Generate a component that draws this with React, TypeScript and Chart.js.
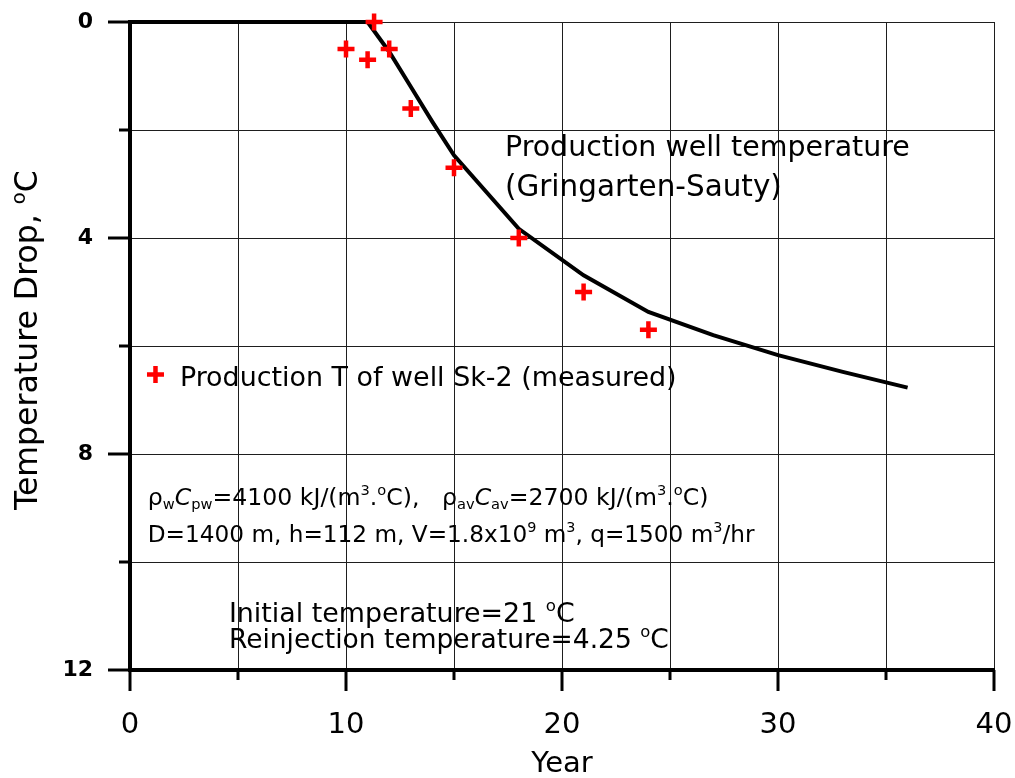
import React, { useEffect, useRef } from 'react';
import { Chart, registerables } from 'chart.js';

Chart.register(...registerables);

// ---- Data ----
const modelYears = [0, 11, 12, 13, 14, 15, 18, 21, 24, 27, 30, 33, 36];
const modelDrop = [0, 0, 0.55, 1.2, 1.85, 2.47, 3.83, 4.69, 5.37, 5.8, 6.17, 6.48, 6.77];
const measuredYears = [10, 11, 11.3, 12, 13, 15, 18, 21, 24];
const measuredDrop = [0.5, 0.7, 0, 0.5, 1.6, 2.7, 4.0, 5.0, 5.7];
const xTickLabels = ['0', '10', '20', '30', '40'];
const yTickLabels = ['0', '4', '8', '12'];

const FONT = '"DejaVu Sans", sans-serif';

type Seg = { t: string; pos?: 'sub' | 'sup'; italic?: boolean };

function segFont(size: number, seg: Seg, weight: string) {
  const s = seg.pos ? size * 0.62 : size;
  return `${seg.italic ? 'italic ' : ''}${weight} ${s}px ${FONT}`;
}
function measureRich(ctx: CanvasRenderingContext2D, segs: Seg[], size: number, weight: string) {
  let w = 0;
  for (const s of segs) {
    ctx.font = segFont(size, s, weight);
    w += ctx.measureText(s.t).width;
  }
  return w;
}
function drawRich(
  ctx: CanvasRenderingContext2D,
  segs: Seg[],
  x: number,
  yCenter: number,
  size: number,
  weight: string,
  target?: number
) {
  let sz = size;
  if (target) sz = (size * target) / measureRich(ctx, segs, size, weight);
  ctx.textAlign = 'left';
  ctx.textBaseline = 'alphabetic';
  const base = yCenter + sz * 0.36;
  let cx = x;
  for (const s of segs) {
    ctx.font = segFont(sz, s, weight);
    const dy = s.pos === 'sub' ? sz * 0.2 : s.pos === 'sup' ? -sz * 0.4 : 0;
    ctx.fillText(s.t, cx, base + dy);
    cx += ctx.measureText(s.t).width;
  }
}

const line1: Seg[] = [
  { t: 'ρ' }, { t: 'w', pos: 'sub' }, { t: 'C', italic: true }, { t: 'pw', pos: 'sub' },
  { t: '=4100 kJ/(m' }, { t: '3', pos: 'sup' }, { t: '.' }, { t: 'o', pos: 'sup' }, { t: 'C),   ' },
  { t: 'ρ' }, { t: 'av', pos: 'sub' }, { t: 'C', italic: true }, { t: 'av', pos: 'sub' },
  { t: '=2700 kJ/(m' }, { t: '3', pos: 'sup' }, { t: '.' }, { t: 'o', pos: 'sup' }, { t: 'C)' },
];
const line2: Seg[] = [
  { t: 'D=1400 m, h=112 m, V=1.8x10' }, { t: '9', pos: 'sup' }, { t: ' m' }, { t: '3', pos: 'sup' },
  { t: ', q=1500 m' }, { t: '3', pos: 'sup' }, { t: '/hr' },
];
const initLine: Seg[] = [{ t: 'Initial temperature=21 ' }, { t: 'o', pos: 'sup' }, { t: 'C' }];
const reinjLine: Seg[] = [{ t: 'Reinjection temperature=4.25 ' }, { t: 'o', pos: 'sup' }, { t: 'C' }];
const yTitle: Seg[] = [{ t: 'Temperature Drop, ' }, { t: 'o', pos: 'sup' }, { t: 'C' }];

const overlayPlugin = {
  id: 'overlay',
  afterDatasetsDraw(chart: any) {
    const ctx: CanvasRenderingContext2D = chart.ctx;
    const xs = chart.scales.x;
    const ys = chart.scales.y;
    const ca = chart.chartArea;
    ctx.save();
    // tick marks
    ctx.strokeStyle = '#000';
    ctx.lineWidth = 3;
    ctx.lineCap = 'butt';
    for (let v = 0; v <= 12; v += 2) {
      const y = ys.getPixelForValue(v);
      const len = v % 4 === 0 ? 22 : 11;
      ctx.beginPath();
      ctx.moveTo(ca.left - len, y);
      ctx.lineTo(ca.left, y);
      ctx.stroke();
    }
    for (let v = 0; v <= 40; v += 5) {
      const x = xs.getPixelForValue(v);
      const len = v % 10 === 0 ? 21 : 10;
      ctx.beginPath();
      ctx.moveTo(x, ca.bottom);
      ctx.lineTo(x, ca.bottom + len);
      ctx.stroke();
    }

    ctx.fillStyle = '#000';
    const px = (v: number) => xs.getPixelForValue(v);
    const py = (v: number) => ys.getPixelForValue(v);

    // curve label
    drawRich(ctx, [{ t: 'Production well temperature' }], px(17.36), py(2.3), 24, 'normal', 405);
    drawRich(ctx, [{ t: '(Gringarten-Sauty)' }], px(17.36), py(3.03), 24, 'normal', 277);

    // legend
    const lx = px(1.18);
    const ly = py(6.53);
    ctx.strokeStyle = '#ff0000';
    ctx.lineWidth = 4.5;
    ctx.beginPath();
    ctx.moveTo(lx - 8.5, ly);
    ctx.lineTo(lx + 8.5, ly);
    ctx.moveTo(lx, ly - 8.5);
    ctx.lineTo(lx, ly + 8.5);
    ctx.stroke();
    drawRich(ctx, [{ t: 'Production T of well Sk-2 (measured)' }], px(2.31), py(6.56), 22, 'normal', 497);

    // parameters
    drawRich(ctx, line1, px(0.82), py(8.78), 18, 'normal', 561);
    drawRich(ctx, line2, px(0.82), py(9.47), 18, 'normal', 607);
    drawRich(ctx, initLine, px(4.58), py(10.93), 22, 'normal', 346);
    drawRich(ctx, reinjLine, px(4.58), py(11.41), 22, 'normal', 440);

    // y axis title
    ctx.save();
    ctx.translate(26, 340);
    ctx.rotate(-Math.PI / 2);
    const tw = 340;
    drawRich(ctx, yTitle, -tw / 2, 0, 22, 'normal', tw);
    ctx.restore();

    // x axis title
    ctx.font = `normal 29px ${FONT}`;
    ctx.textAlign = 'center';
    ctx.textBaseline = 'middle';
    ctx.fillText('Year', (ca.left + ca.right) / 2, 764);
    ctx.restore();
  },
};

export default function App() {
  const ref = useRef<HTMLCanvasElement>(null);
  useEffect(() => {
    if (!ref.current) return;
    const chart = new Chart(ref.current, {
      type: 'scatter',
      data: {
        datasets: [
          {
            label: 'Production T of well Sk-2 (measured)',
            data: measuredYears.map((x, i) => ({ x, y: measuredDrop[i] })),
            pointStyle: 'cross',
            pointRadius: 8.5,
            pointBorderWidth: 4.5,
            borderColor: '#ff0000',
            backgroundColor: '#ff0000',
            clip: false,
            order: 0,
          } as any,
          {
            label: 'Production well temperature (Gringarten-Sauty)',
            data: modelYears.map((x, i) => ({ x, y: modelDrop[i] })),
            showLine: true,
            borderColor: '#000',
            borderWidth: 4,
            pointRadius: 0,
            tension: 0,
            clip: false,
            order: 1,
          } as any,
        ],
      },
      options: {
        animation: false,
        responsive: false,
        events: [],
        layout: { padding: { top: 22, right: 21, left: 0, bottom: 0 } },
        plugins: { legend: { display: false }, tooltip: { enabled: false } },
        scales: {
          x: {
            type: 'linear',
            min: 0,
            max: 40,
            afterFit: (s: any) => {
              s.height = 108;
              s.paddingLeft = 0;
              s.paddingRight = 0;
            },
            ticks: {
              stepSize: 5,
              autoSkip: false,
              maxRotation: 0,
              padding: 38,
              color: '#000',
              font: { family: FONT, size: 29 },
              callback: (v: any) => (xTickLabels.includes(String(v)) ? String(v) : ''),
            },
            grid: { color: '#1e1e1e', lineWidth: 1, drawTicks: false },
            border: { color: '#000', width: 4 },
          },
          y: {
            type: 'linear',
            min: 0,
            max: 12,
            reverse: true,
            afterFit: (s: any) => {
              s.width = 130;
              s.paddingTop = 0;
              s.paddingBottom = 0;
            },
            ticks: {
              stepSize: 2,
              autoSkip: false,
              padding: 37,
              color: '#000',
              font: { family: FONT, size: 22, weight: 'bold' },
              callback: (v: any) => (yTickLabels.includes(String(v)) ? String(v) : ''),
            },
            grid: { color: '#1e1e1e', lineWidth: 1, drawTicks: false },
            border: { color: '#000', width: 4 },
          },
        },
      },
      plugins: [overlayPlugin],
    });
    return () => chart.destroy();
  }, []);
  return (
    <div style={{ position: 'absolute', left: 0, top: 0, width: 1015, height: 778, background: '#fff' }}>
      <canvas ref={ref} width={1015} height={778} />
    </div>
  );
}
